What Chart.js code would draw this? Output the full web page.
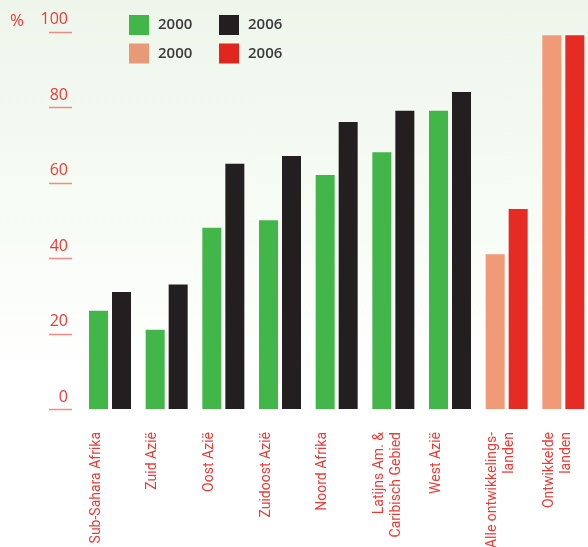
<!DOCTYPE html>
<html>
<head>
<meta charset="utf-8">
<script src="https://cdn.jsdelivr.net/npm/chart.js@4.4.1/dist/chart.umd.min.js"></script>
<style>
  html, body { margin: 0; padding: 0; overflow: hidden; background: #fff; }
  #wrap {
    position: relative; width: 600px; height: 547px;
    background: linear-gradient(to bottom, #eef6ec 0%, #f6fbf4 35%, #ffffff 70%);
  }
</style>
</head>
<body>
<div id="wrap"><canvas id="myChart"></canvas></div>
<script>
// Gegevens
const categorieen = [
    'Sub-Sahara Afrika',
    'Zuid Azië',
    'Oost Azië',
    'Zuidoost Azië',
    'Noord Afrika',
    ['Latijns Am. &', 'Caribisch Gebied'],
    'West Azië',
    ['Alle ontwikkelings-', 'landen'],
    ['Ontwikkelde', 'landen']
];
const waarden2000 = [26, 21, 48, 50, 62, 68, 79, 41, 99];
const waarden2006 = [31, 33, 65, 67, 76, 79, 84, 53, 99];
const groep = ['regio', 'regio', 'regio', 'regio', 'regio', 'regio', 'regio', 'totaal', 'totaal'];
const yTicks = [0, 20, 40, 60, 80, 100];

// Kleuren
const groen = '#43b649';
const zwart = '#231f20';
const zalm = '#f09a78';
const rood = '#e52b24';
const tekstRood = '#ec3b35';

const legenda = [
    { label: '2000', kleur: groen },
    { label: '2006', kleur: zwart },
    { label: '2000', kleur: '#e89a78' },
    { label: '2006', kleur: '#e0261f' }
];

const extraTekst = {
    id: 'extraTekst',
    afterDraw(chart) {
        const ctx = chart.ctx;
        const y = chart.scales.y;
        ctx.save();
        // streepjes onder de y-labels
        ctx.strokeStyle = '#f08a84';
        ctx.lineWidth = 1.5;
        yTicks.forEach(v => {
            const py = Math.round(y.getPixelForValue(v)) + 0.5;
            ctx.beginPath();
            ctx.moveTo(49, py);
            ctx.lineTo(72, py);
            ctx.stroke();
        });
        // eenheid
        ctx.fillStyle = tekstRood;
        ctx.font = '17px "Open Sans"';
        ctx.textAlign = 'center';
        ctx.textBaseline = 'middle';
        ctx.fillText('%', 17, 21);
        // legenda
        legenda.forEach((item, i) => {
            const x = 129 + (i % 2) * 90;
            const yy = 15 + Math.floor(i / 2) * 28.5;
            ctx.fillStyle = item.kleur;
            ctx.fillRect(x, yy, 20, 20);
            ctx.fillStyle = '#3a3a3a';
            ctx.font = '600 15px "Open Sans"';
            ctx.textAlign = 'left';
            ctx.fillText(item.label, x + 29, yy + 10);
        });
        ctx.restore();
    }
};

const data = {
    labels: categorieen,
    datasets: [{
        label: '2000',
        data: waarden2000,
        backgroundColor: groep.map(g => g === 'regio' ? groen : zalm),
        borderWidth: 0
    }, {
        label: '2006',
        data: waarden2006,
        backgroundColor: groep.map(g => g === 'regio' ? zwart : rood),
        borderWidth: 0
    }]
};

const options = {
    responsive: true,
    maintainAspectRatio: false,
    animation: false,
    layout: { padding: { top: 31.5, right: 8.33, left: 0, bottom: 0 } },
    datasets: {
        bar: { categoryPercentage: 0.812, barPercentage: 0.826 }
    },
    plugins: {
        legend: { display: false },
        tooltip: { enabled: false }
    },
    scales: {
        x: {
            grid: { display: false },
            border: { display: false },
            afterFit(scale) {
                scale.height = 138;
                scale.paddingLeft = 0;
                scale.paddingRight = 0;
            },
            ticks: {
                autoSkip: false,
                minRotation: 90,
                maxRotation: 90,
                padding: 15,
                labelOffset: -14,
                color: tekstRood,
                font: { family: 'Roboto', size: 14, lineHeight: 1.2 }
            }
        },
        y: {
            min: 0,
            max: 100,
            grid: { display: false, drawTicks: false },
            border: { display: false },
            afterFit(scale) {
                scale.width = 81.67;
                scale.paddingTop = 0;
                scale.paddingBottom = 0;
            },
            afterBuildTicks(scale) { scale.ticks = yTicks.map(v => ({ value: v })); },
            ticks: {
                padding: 13.7,
                labelOffset: -12,
                color: tekstRood,
                font: { family: 'Open Sans', size: 16 }
            }
        }
    }
};

const ctx = document.getElementById('myChart').getContext('2d');
const myChart = new Chart(ctx, {
    type: 'bar',
    data: data,
    options: options,
    plugins: [extraTekst]
});
</script>
</body>
</html>
